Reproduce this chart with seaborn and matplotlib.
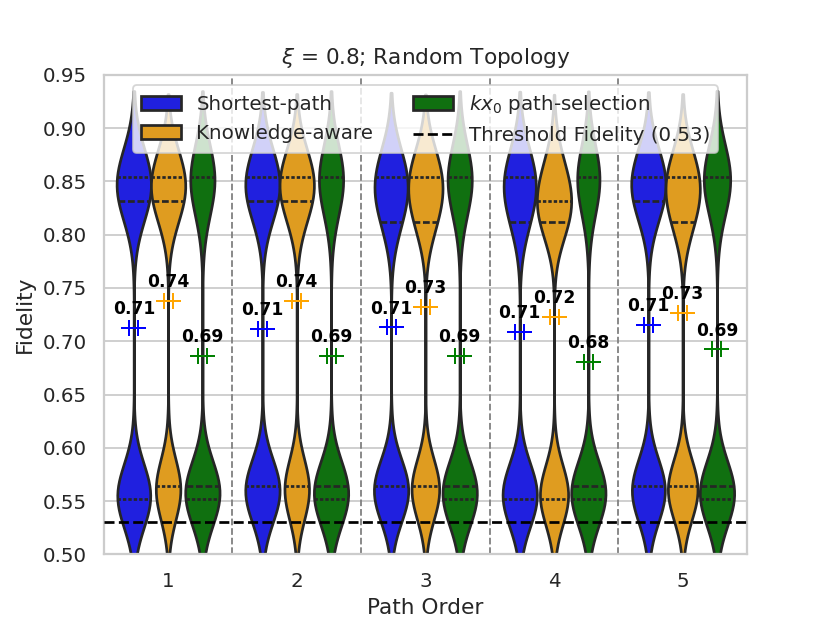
import numpy as np
import pandas as pd
import matplotlib
matplotlib.use("Agg")
import matplotlib.pyplot as plt
import seaborn as sns
from matplotlib.ticker import MultipleLocator, FormatStrFormatter
from matplotlib.lines import Line2D

# ---------------- data ----------------
PATH_ORDERS = [1, 2, 3, 4, 5]
METHODS = ["Shortest-path", "Knowledge-aware", "$kx_0$ path-selection"]
FIDELITY_LEVELS = [0.552, 0.564, 0.812, 0.832, 0.854, 0.876]
# occurrences (out of 100 runs) of each fidelity level, per path order
SHORTEST_COUNTS = [[34, 12, 2, 20, 25, 7], [17, 30, 2, 20, 24, 7],
                   [16, 30, 10, 14, 23, 7], [32, 15, 9, 14, 23, 7],
                   [16, 30, 2, 20, 25, 7]]
KNOWLEDGE_COUNTS = [[10, 28, 5, 22, 27, 8], [10, 28, 5, 21, 28, 8],
                    [10, 29, 14, 14, 25, 8], [27, 13, 20, 20, 15, 5],
                    [11, 30, 13, 15, 24, 7]]
KX0_COUNTS = [[30, 26, 2, 10, 25, 7], [31, 25, 2, 10, 25, 7],
              [31, 25, 2, 10, 25, 7], [32, 26, 2, 9, 24, 7],
              [30, 24, 2, 10, 27, 7]]
THRESHOLD = 0.53
VIOLIN_COLORS = ["blue", "orange", "green"]
MEAN_COLORS = ["blue", "orange", "green"]

# ---------------- build long table ----------------
rows = []
for method, counts in zip(METHODS, [SHORTEST_COUNTS, KNOWLEDGE_COUNTS, KX0_COUNTS]):
    for order, cnt in zip(PATH_ORDERS, counts):
        for val in np.repeat(FIDELITY_LEVELS, cnt):
            rows.append({"Path Order": order, "Method": method, "Fidelity": val})
df = pd.DataFrame(rows)

sns.set_theme(style="whitegrid", context="notebook")
fig, ax = plt.subplots(figsize=(830 / 130, 623 / 130), dpi=130)

sns.violinplot(data=df, x="Path Order", y="Fidelity", hue="Method",
               order=PATH_ORDERS, hue_order=METHODS, palette=VIOLIN_COLORS,
               inner="quart", bw_method=0.2, cut=2, linewidth=1.5,
               density_norm="width", ax=ax)

# means with labels
means = df.groupby(["Method", "Path Order"])["Fidelity"].mean()
n_h = len(METHODS)
width = 0.8 / n_h
for j, method in enumerate(METHODS):
    off = (j - (n_h - 1) / 2) * width
    for i, order in enumerate(PATH_ORDERS):
        m = means[(method, order)]
        x = i + off
        for dx in (-0.035, 0.035):
            ax.scatter(x + dx, m, marker="+", s=70, color=MEAN_COLORS[j],
                       linewidths=1.1, zorder=5)
        ax.annotate(f"{m:.2f}", (x, m), xytext=(0, 5.5), textcoords="offset points",
                    ha="center", va="bottom", fontsize=9.5, fontweight="bold",
                    color="black", zorder=6)

# separators between path orders
for i in range(len(PATH_ORDERS) - 1):
    ax.axvline(i + 0.5, color="gray", linestyle="--", linewidth=1, zorder=1)

ax.axhline(THRESHOLD, color="black", linestyle="--", linewidth=1.5, zorder=4)

ax.set_ylim(0.5, 0.95)
ax.set_xlim(-0.5, len(PATH_ORDERS) - 0.5)
ax.yaxis.set_major_locator(MultipleLocator(0.05))
ax.yaxis.set_major_formatter(FormatStrFormatter("%.2f"))
ax.set_xlabel("Path Order")
ax.set_ylabel("Fidelity")
ax.set_title(r"$\xi$ = 0.8; Random Topology")

leg = ax.get_legend()
handles = list(leg.legend_handles)
leg.remove()
thr_handle = Line2D([], [], color="black", linestyle="--", linewidth=1.5)
ax.legend(handles + [thr_handle], METHODS + ["Threshold Fidelity (0.53)"],
          ncol=2, loc="upper center")

fig.savefig("out.png", dpi=130)
